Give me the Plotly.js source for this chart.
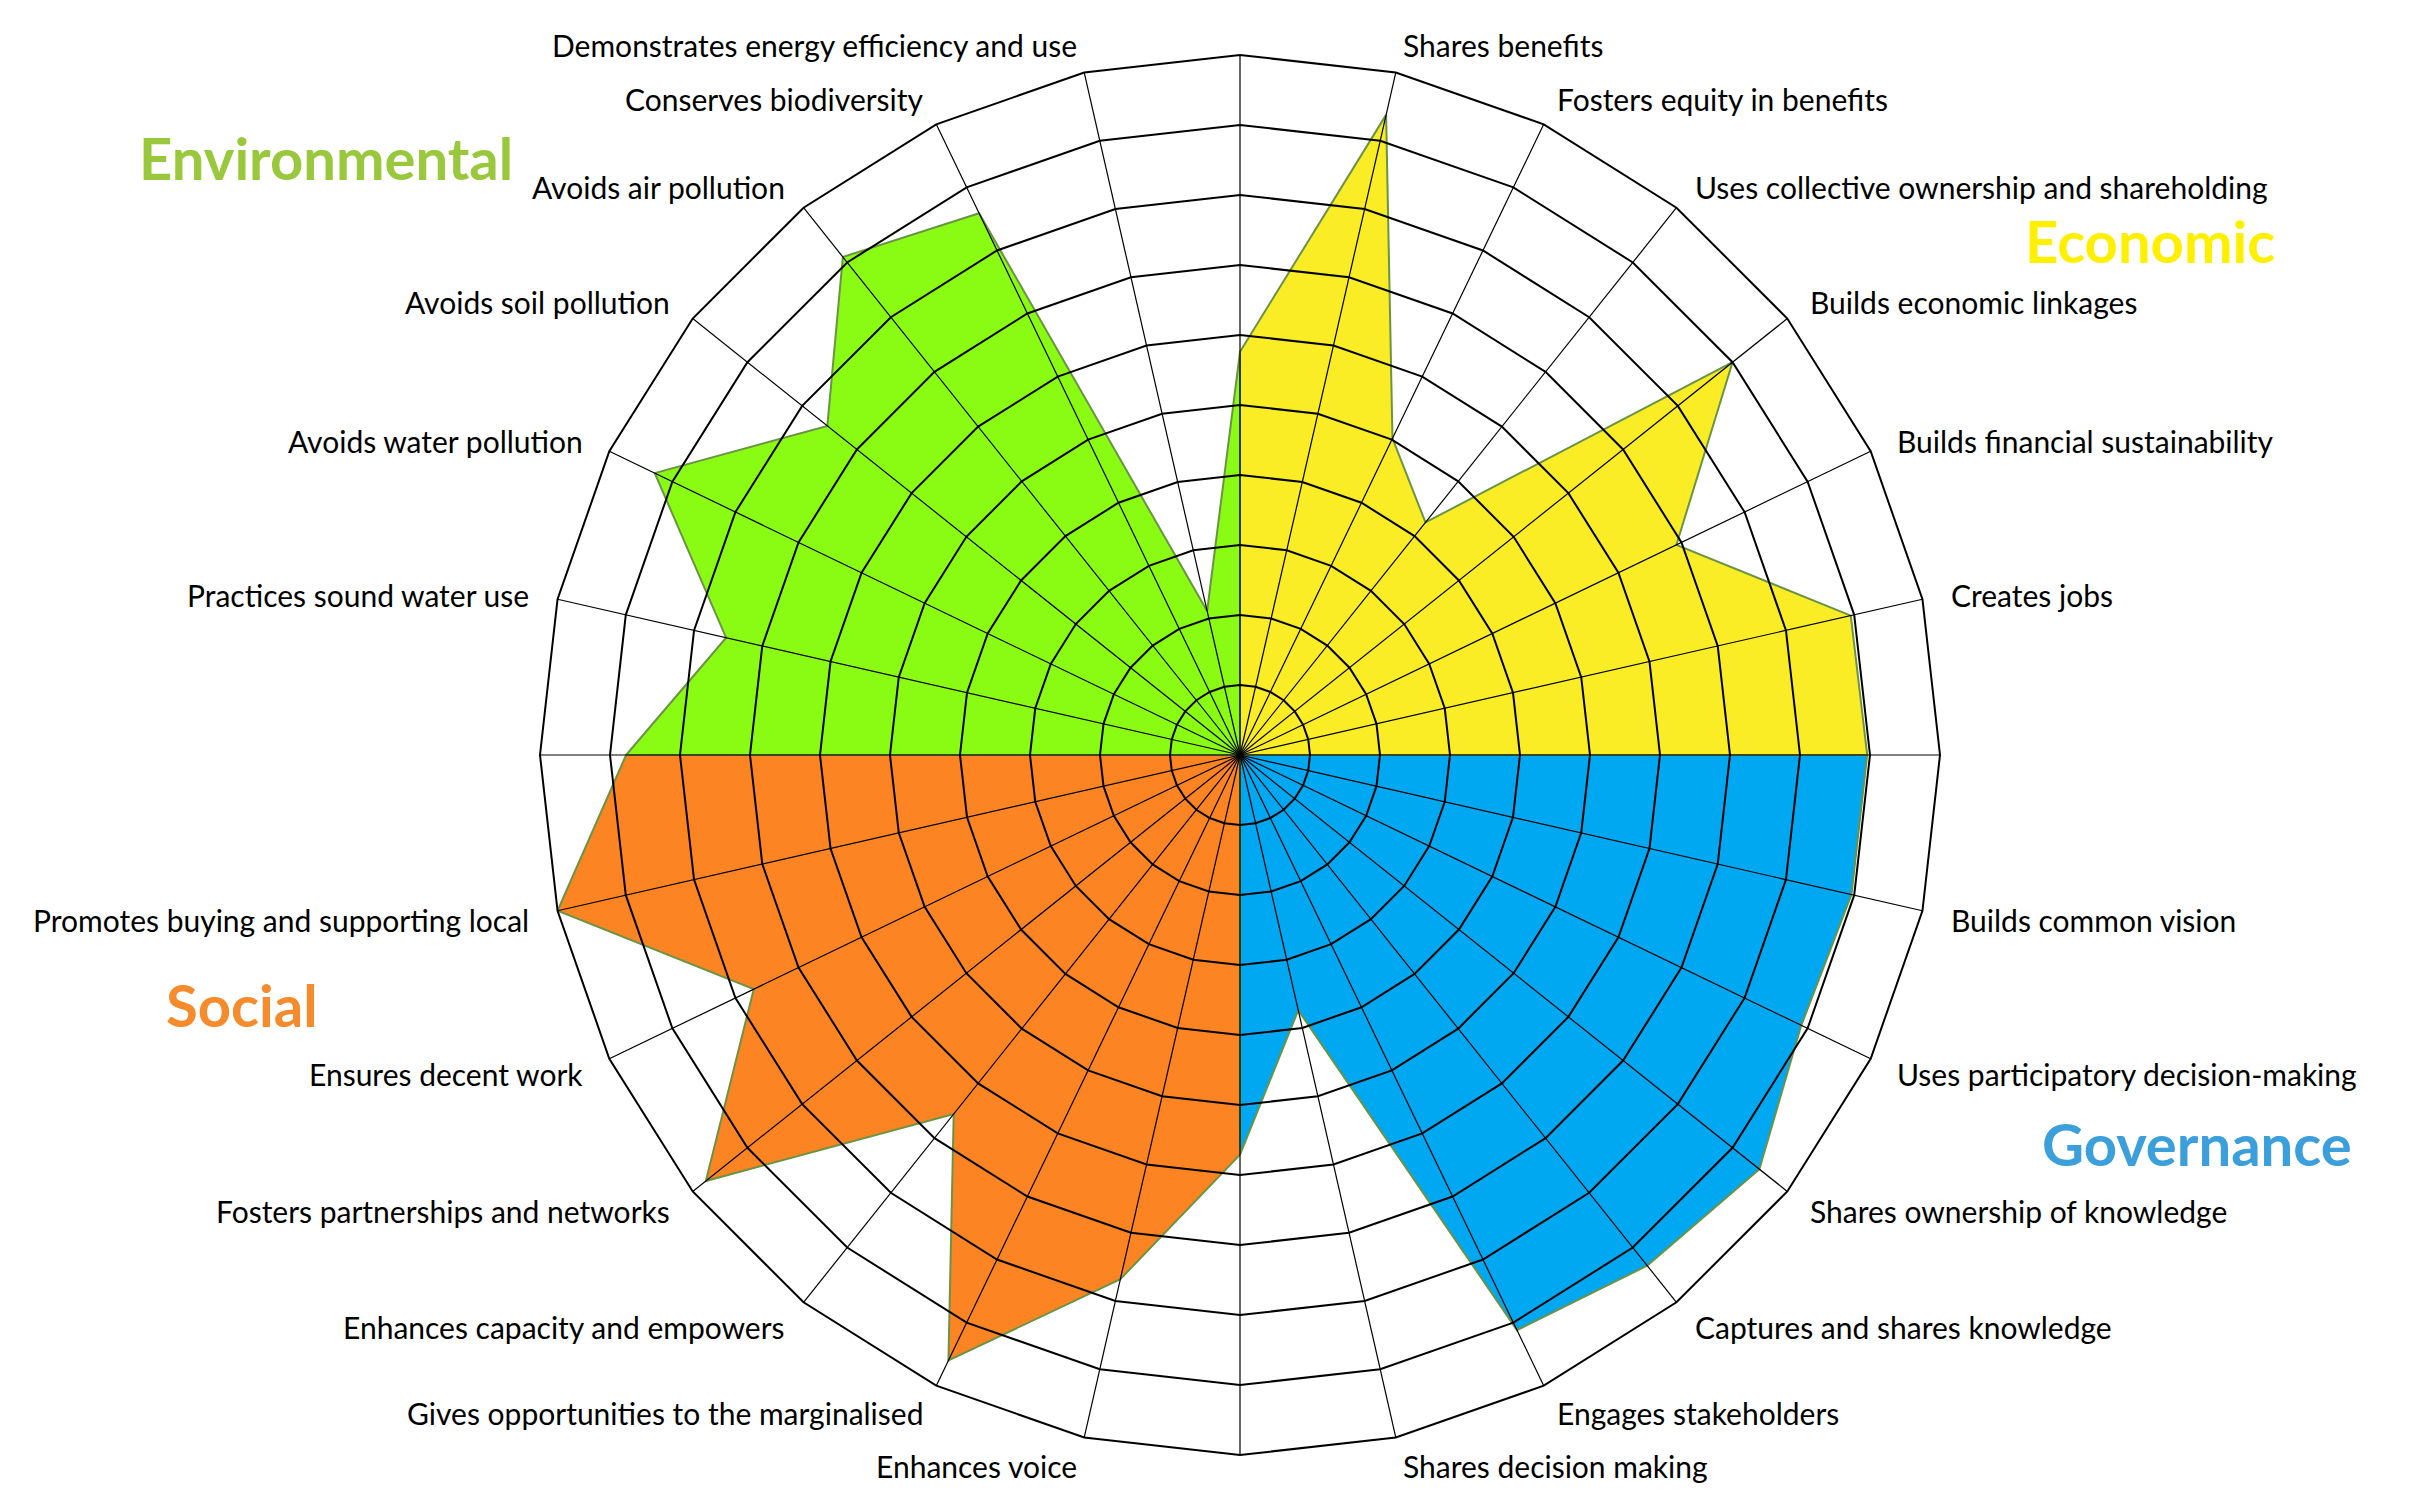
<!DOCTYPE html>
<html>
<head>
<meta charset="utf-8">
<script src="https://cdn.plot.ly/plotly-3.0.1.min.js"></script>
<style>
  html, body { margin: 0; padding: 0; background: #ffffff; }
  #chart { width: 2410px; height: 1489px; }
</style>
</head>
<body>
<div id="chart"></div>
<script>
// ---- Data (values on a 0–10 scale) ----
const economicLabels = ['Creates jobs', 'Builds financial sustainability', 'Builds economic linkages',
  'Uses collective ownership and shareholding', 'Fosters equity in benefits', 'Shares benefits'];
const economicValues = [8.95, 6.92, 9.00, 4.25, 5.02, 9.38];

const environmentalLabels = ['Demonstrates energy efficiency and use', 'Conserves biodiversity', 'Avoids air pollution',
  'Avoids soil pollution', 'Avoids water pollution', 'Practices sound water use'];
const environmentalValues = [2.11, 8.59, 9.10, 7.54, 9.28, 7.53];

const socialLabels = ['Promotes buying and supporting local', 'Ensures decent work', 'Fosters partnerships and networks',
  'Enhances capacity and empowers', 'Gives opportunities to the marginalised', 'Enhances voice'];
const socialValues = [10.00, 7.71, 9.76, 6.56, 9.60, 7.68];

const governanceLabels = ['Shares decision making', 'Engages stakeholders', 'Captures and shares knowledge',
  'Shares ownership of knowledge', 'Uses participatory decision-making', 'Builds common vision'];
const governanceValues = [3.74, 9.12, 9.33, 9.49, 8.90, 8.96];

// unlabeled spokes between the four groups (east, north, west, south)
const junctionIds = ['J-east', 'J-north', 'J-west', 'J-south'];
const junctionValues = [8.96, 5.76, 8.77, 5.71];

const groupTitles = ['Environmental', 'Economic', 'Social', 'Governance'];
const groupTitleColors = ['#9AC83C', '#FFF000', '#F68B2C', '#3B9FDC'];
const fillColors = ['#8AFC14', '#FAEC25', '#FC8422', '#00A8F2'];

// ---- Build category order (counterclockwise from east) ----
const categories = [junctionIds[0], ...economicLabels, junctionIds[1], ...environmentalLabels,
  junctionIds[2], ...socialLabels, junctionIds[3], ...governanceLabels];

function sector(startJ, labels, values, endJ) {
  return {
    theta: [junctionIds[startJ], junctionIds[startJ], ...labels, junctionIds[endJ], junctionIds[endJ]],
    r: [0, junctionValues[startJ], ...values, junctionValues[endJ], 0]
  };
}

const sectors = [
  {name: 'Environmental', ...sector(1, environmentalLabels, environmentalValues, 2), color: fillColors[0]},
  {name: 'Economic', ...sector(0, economicLabels, economicValues, 1), color: fillColors[1]},
  {name: 'Social', ...sector(2, socialLabels, socialValues, 3), color: fillColors[2]},
  {name: 'Governance', ...sector(3, governanceLabels, governanceValues, 0), color: fillColors[3]}
];

const traces = sectors.map(s => ({
  type: 'scatterpolar',
  subplot: 'polar',
  name: s.name,
  theta: s.theta,
  r: s.r,
  mode: 'lines',
  fill: 'toself',
  fillcolor: s.color,
  line: {color: '#6A9443', width: 2},
  hoverinfo: 'skip'
}));

// invisible trace on the grid overlay so that it carries the same categories
traces.push({
  type: 'scatterpolar',
  subplot: 'polar2',
  theta: categories,
  r: [junctionValues[0], ...economicValues, junctionValues[1], ...environmentalValues,
      junctionValues[2], ...socialValues, junctionValues[3], ...governanceValues],
  mode: 'markers',
  marker: {opacity: 0},
  hoverinfo: 'skip',
  showlegend: false
});

const W = 2410, H = 1489;
const cx = 1240, cy = 755, R = 700;
const domain = {
  x: [(cx - R) / W, (cx + R) / W],
  y: [(H - cy - R) / H, (H - cy + R) / H]
};

const angularCommon = {
  type: 'category',
  categoryorder: 'array',
  categoryarray: categories,
  rotation: 0,
  direction: 'counterclockwise'
};

const labelFont = {family: 'Lato, "Open Sans", sans-serif', size: 30, color: '#000000'};

// spoke labels placed just outside each spoke tip
const labelAnnotations = categories.map((c, i) => {
  if (junctionIds.includes(c)) return null;
  const a = i * 2 * Math.PI / categories.length;
  const cos = Math.cos(a), sin = Math.sin(a);
  const px = cx + (R + 28) * cos;
  const py = cy - (R + 29) * sin + 2.5 * Math.abs(cos);
  return {
    text: c, xref: 'paper', yref: 'paper',
    x: px / W, y: 1 - py / H,
    xanchor: cos > 0 ? 'left' : 'right', yanchor: 'middle',
    showarrow: false, borderpad: 0, font: labelFont
  };
}).filter(Boolean);

const titleAnnotations = [
  {text: groupTitles[0], x: 137 / W, y: 1 - 158 / H, xanchor: 'left', color: groupTitleColors[0]},
  {text: groupTitles[1], x: 2277 / W, y: 1 - 241 / H, xanchor: 'right', color: groupTitleColors[1]},
  {text: groupTitles[2], x: 164 / W, y: 1 - 1004 / H, xanchor: 'left', color: groupTitleColors[2]},
  {text: groupTitles[3], x: 2354 / W, y: 1 - 1143 / H, xanchor: 'right', color: groupTitleColors[3]}
].map(a => ({
  text: '<b>' + a.text + '</b>',
  xref: 'paper', yref: 'paper',
  x: a.x, y: a.y, xanchor: a.xanchor, yanchor: 'middle',
  showarrow: false,
  font: {family: 'Lato, "Open Sans", sans-serif', size: 58, color: a.color}
}));

const layout = {
  width: W,
  height: H,
  margin: {l: 0, r: 0, t: 0, b: 0},
  paper_bgcolor: '#ffffff',
  showlegend: false,
  font: {family: 'Lato, "Open Sans", sans-serif', color: '#000000'},
  polar: {
    domain: domain,
    gridshape: 'linear',
    bgcolor: '#ffffff',
    radialaxis: {range: [0, 10], visible: false, showgrid: false},
    angularaxis: Object.assign({}, angularCommon, {
      showgrid: false, showline: false, showticklabels: false, ticks: ''
    })
  },
  polar2: {
    domain: domain,
    gridshape: 'linear',
    bgcolor: 'rgba(0,0,0,0)',
    radialaxis: {
      range: [0, 10], dtick: 1, tick0: 0,
      showgrid: true, gridcolor: '#000000', gridwidth: 2,
      showline: false, showticklabels: false, ticks: ''
    },
    angularaxis: Object.assign({}, angularCommon, {
      showgrid: true, gridcolor: '#000000', gridwidth: 1.2,
      showline: true, linecolor: '#000000', linewidth: 2,
      showticklabels: false, ticks: ''
    })
  },
  annotations: [...labelAnnotations, ...titleAnnotations]
};

Plotly.newPlot('chart', traces, layout, {displayModeBar: false, staticPlot: true});
</script>
</body>
</html>
